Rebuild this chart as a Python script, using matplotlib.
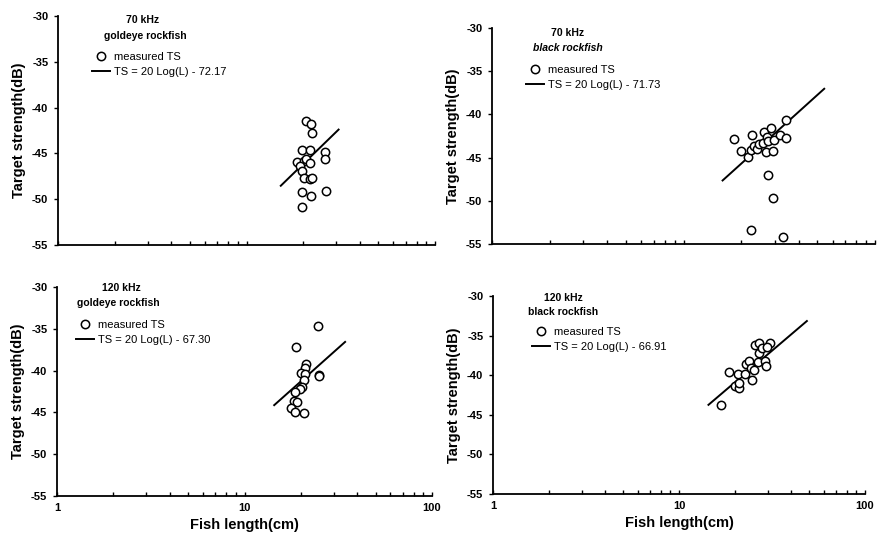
import matplotlib
matplotlib.use("Agg")
import matplotlib.pyplot as plt
from matplotlib.ticker import FixedLocator, FixedFormatter, NullFormatter
import numpy as np

plt.rcParams['font.family'] = ['Liberation Sans', 'DejaVu Sans']
plt.rcParams['axes.unicode_minus'] = False

# ---------------- data ----------------
# 70 kHz goldeye rockfish
gold70_len = [20.6, 21.9, 22.3, 19.6, 21.7, 26.1, 26.1, 18.5, 20.1, 20.8,
              21.8, 19.3, 19.6, 20.1, 21.7, 22.2, 19.8, 21.9, 26.4, 19.8]
gold70_ts = [-41.46, -41.82, -42.8, -44.63, -44.63, -44.8, -45.6, -45.97, -45.83, -45.64,
             -46.08, -46.4, -46.89, -47.65, -47.8, -47.7, -49.25, -49.65, -49.07, -50.82]
# 70 kHz black rockfish
black70_len = [18.4, 22.7, 20.0, 21.6, 22.5, 23.3, 24.3, 24.8, 25.9, 26.4, 27.4, 27.7,
               28.7, 29.8, 26.9, 29.2, 31.9, 34.1, 34.1, 27.7, 29.3, 22.5, 32.9]
black70_ts = [-42.8, -42.37, -44.2, -44.9, -44.1, -43.7, -44.0, -43.4, -43.3, -42.05, -42.6, -43.1,
              -41.6, -42.95, -44.4, -44.2, -42.4, -40.6, -42.75, -47.0, -49.7, -53.4, -54.15]
# 120 kHz goldeye rockfish
gold120_len = [24.6, 18.9, 21.4, 21.0, 19.9, 21.1, 20.7, 20.3, 19.7, 18.6, 24.9, 25.0,
               18.35, 19.1, 17.6, 18.7, 20.7]
gold120_ts = [-34.67, -37.18, -39.16, -39.69, -40.24, -40.36, -41.16, -41.96, -42.15, -42.56, -40.48, -40.6,
              -43.67, -43.76, -44.43, -44.95, -45.07]
# 120 kHz black rockfish
black120_len = [16.9, 18.5, 19.95, 20.96, 21.1, 20.8, 22.6, 22.8, 23.9, 24.5, 24.7, 25.2,
                25.5, 26.8, 26.6, 26.8, 27.9, 29.1, 29.5, 30.7, 29.7]
black120_ts = [-43.8, -39.63, -41.36, -41.65, -40.95, -39.85, -39.9, -38.6, -38.2, -39.05, -40.6, -39.4,
               -36.2, -35.9, -38.3, -37.2, -36.6, -38.2, -38.9, -35.9, -36.4]

intercepts = [-72.17, -71.73, -67.30, -66.91]
fit_ranges = [(15.2, 30.8), (16.0, 54.3), (14.4, 34.4), (14.4, 48.7)]
freq_labels = ["70 kHz", "70 kHz", "120 kHz", "120 kHz"]
species_labels = ["goldeye rockfish", "black rockfish", "goldeye rockfish", "black rockfish"]
eq_labels = ["TS = 20 Log(L) - 72.17", "TS = 20 Log(L) - 71.73",
             "TS = 20 Log(L) - 67.30", "TS = 20 Log(L) - 66.91"]
y_ticks = [-55, -50, -45, -40, -35, -30]
x_major = [1, 10, 100]
x_major_labels = ["1", "10", "100"]

series_len = [gold70_len, black70_len, gold120_len, black120_len]
series_ts = [gold70_ts, black70_ts, gold120_ts, black120_ts]

# ---------------- layout ----------------
W, H = 881, 545
fig = plt.figure(figsize=(W / 100, H / 100), dpi=100)

def rect(l, t, r, b):
    return [l / W, 1 - b / H, (r - l) / W, (b - t) / H]

def fpt(x, y):
    return (x / W, 1 - y / H)

axes_px = [(58, 16, 435, 245), (492, 28, 875, 244), (57, 287, 432, 496), (493, 296, 865, 494)]
freq_pos = [(143, 20), (568, 33), (121, 288), (563, 298)]
spec_pos = [(145, 36), (568, 48), (118, 303), (563, 312)]
leg_pos = [(92, 52), (526, 65), (76, 320), (532, 327)]
italic_species = [False, True, False, False]

minor = [m * d for d in (1, 10) for m in range(2, 10)]

for i in range(4):
    ax = fig.add_axes(rect(*axes_px[i]))
    ax.set_xscale('log')
    ax.set_xlim(1, 100)
    ax.set_ylim(-55, -30)
    for s in ['top', 'right']:
        ax.spines[s].set_visible(False)
    for s in ['left', 'bottom']:
        ax.spines[s].set_linewidth(1.3)

    pts, = ax.plot(series_len[i], series_ts[i], linestyle='none', marker='o',
                   markersize=6, markerfacecolor='white', markeredgecolor='black',
                   markeredgewidth=1.1, label='measured TS', zorder=3)
    xf = np.geomspace(fit_ranges[i][0], fit_ranges[i][1], 50)
    ln, = ax.plot(xf, 20 * np.log10(xf) + intercepts[i], color='black', lw=1.4,
                  label=eq_labels[i], zorder=2)

    ax.xaxis.set_major_locator(FixedLocator(x_major))
    ax.xaxis.set_minor_locator(FixedLocator(minor))
    ax.xaxis.set_minor_formatter(NullFormatter())
    if i >= 2:
        ax.xaxis.set_major_formatter(FixedFormatter(x_major_labels))
        ax.set_xlabel("Fish length(cm)", fontsize=10.5, fontweight='bold', labelpad=4)
    else:
        ax.xaxis.set_major_formatter(NullFormatter())
    ax.tick_params(axis='x', which='both', direction='in', length=3, width=1.0, pad=5)
    for lab in ax.get_xticklabels():
        lab.set_fontweight('bold')
        lab.set_fontsize(8)

    ax.set_yticks(y_ticks)
    ax.set_yticklabels([str(v) for v in y_ticks], fontsize=8, fontweight='bold')
    ax.tick_params(axis='y', direction='out', length=3, width=1.0, pad=4)
    ax.set_ylabel("Target strength(dB)", fontsize=10.5, fontweight='bold', labelpad=4)

    fig.text(*fpt(*freq_pos[i]), freq_labels[i], fontsize=7.5, fontweight='bold',
             ha='center', va='center')
    fig.text(*fpt(*spec_pos[i]), species_labels[i], fontsize=7.5, fontweight='bold',
             style='italic' if italic_species[i] else 'normal', ha='center', va='center')

    ax.legend(handles=[pts, ln], loc='upper left', bbox_to_anchor=fpt(*leg_pos[i]),
              bbox_transform=fig.transFigure, frameon=False, fontsize=8,
              handlelength=1.6, handletextpad=0.35, borderpad=0, borderaxespad=0,
              labelspacing=0.45, numpoints=1)

fig.savefig("out.png", dpi=100)
